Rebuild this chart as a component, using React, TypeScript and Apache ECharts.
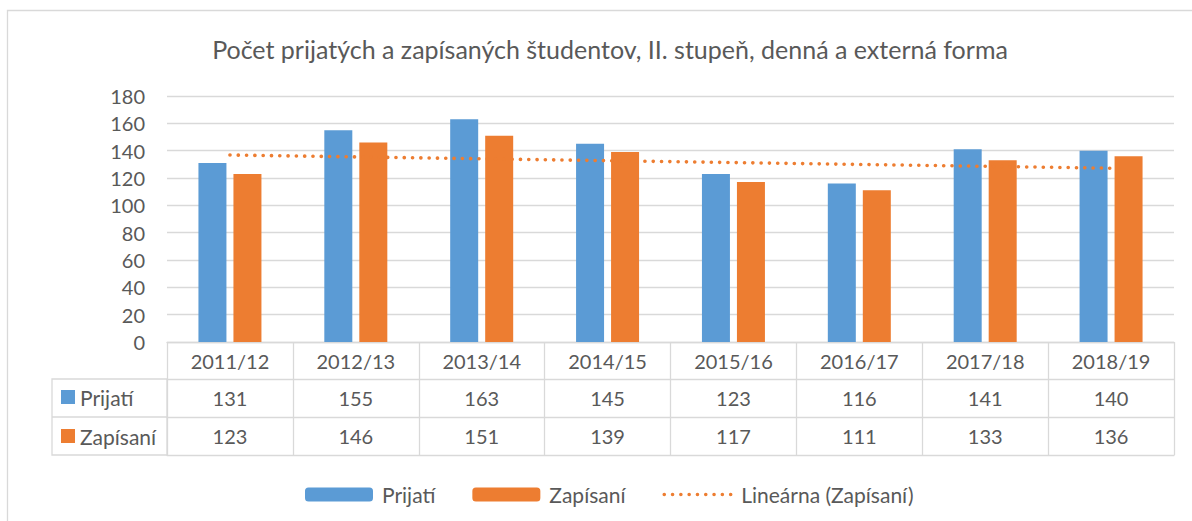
import React, { useEffect, useRef } from "react";
import * as echarts from "echarts";

const title = "Počet prijatých a zapísaných študentov, II. stupeň, denná a externá forma";
const years = ["2011/12", "2012/13", "2013/14", "2014/15", "2015/16", "2016/17", "2017/18", "2018/19"];
const prijati = [131, 155, 163, 145, 123, 116, 141, 140];
const zapisani = [123, 146, 151, 139, 117, 111, 133, 136];
const seriesNames = ["Prijatí", "Zapísaní", "Lineárna (Zapísaní)"];
const yTicks = { min: 0, max: 180, interval: 20 };

const BLUE = "#5B9BD5";
const ORANGE = "#ED7D31";
const GRID = "#D9D9D9";
const TEXT = "#595959";
const FONT = "Lato";

// linear least-squares trend of Zapísaní (Excel "Lineárna" trendline)
function linearTrend(values: number[]): number[] {
  const n = values.length;
  const xs = values.map((_, i) => i + 1);
  const mx = xs.reduce((a, b) => a + b, 0) / n;
  const my = values.reduce((a, b) => a + b, 0) / n;
  let sxy = 0;
  let sxx = 0;
  xs.forEach((x, i) => {
    sxy += (x - mx) * (values[i] - my);
    sxx += (x - mx) * (x - mx);
  });
  const slope = sxy / sxx;
  const icpt = my - slope * mx;
  return xs.map((x) => +(icpt + slope * x).toFixed(3));
}

export default function App() {
  const ref = useRef<HTMLDivElement>(null);
  useEffect(() => {
    document.body.style.margin = "0";
    if (!ref.current) return;
    const chart = echarts.init(ref.current, undefined, { renderer: "svg" });
    const trend = linearTrend(zapisani);
    const tableAxis = (data: string[], offset: number, showLabel: boolean, tickLen: number) => ({
      type: "category",
      data,
      position: "bottom",
      offset,
      gridIndex: 0,
      axisLine: { show: true, lineStyle: { color: GRID, width: 1.3 } },
      axisTick: { show: tickLen > 0, interval: 0, length: tickLen, lineStyle: { color: GRID, width: 1.3 } },
      axisLabel: {
        show: showLabel,
        interval: 0,
        fontSize: 20,
        fontFamily: FONT,
        color: TEXT,
        margin: 9,
        lineHeight: 20,
      },
      splitLine: { show: false },
    });
    chart.setOption({
      animation: false,
      backgroundColor: "#ffffff",
      title: {
        text: title,
        left: 605,
        textAlign: "center",
        top: 31,
        textStyle: { fontSize: 25, fontWeight: "normal", fontFamily: FONT, color: TEXT },
      },
      grid: { left: 167, right: 18, top: 96, bottom: 179, containLabel: false },
      legend: {
        data: [
          seriesNames[0],
          seriesNames[1],
          { name: seriesNames[2], itemStyle: { opacity: 0 }, lineStyle: { width: 3.5 } },
        ],
        left: 300,
        top: 479,
        itemWidth: 68,
        itemHeight: 14,
        itemGap: 37,
        textStyle: { fontSize: 21, fontFamily: FONT, color: TEXT, padding: [0, 0, 0, 4] },
      },
      xAxis: [
        tableAxis(years, 0, true, 37),
        tableAxis(prijati.map(String), 37, true, 38),
        tableAxis(zapisani.map(String), 75, true, 38),
        tableAxis(years, 113, false, 0),
      ],
      yAxis: {
        type: "value",
        min: yTicks.min,
        max: yTicks.max,
        interval: yTicks.interval,
        axisLine: { show: false },
        axisTick: { show: false },
        axisLabel: { fontSize: 20, fontFamily: FONT, color: TEXT, margin: 22 },
        splitLine: { show: true, lineStyle: { color: GRID, width: 1.3 } },
      },
      series: [
        {
          name: seriesNames[0],
          type: "bar",
          xAxisIndex: 0,
          data: prijati,
          barWidth: 28,
          barGap: "25%",
          itemStyle: { color: BLUE },
        },
        {
          name: seriesNames[1],
          type: "bar",
          xAxisIndex: 0,
          data: zapisani,
          barWidth: 28,
          barGap: "25%",
          itemStyle: { color: ORANGE },
        },
        {
          name: seriesNames[2],
          type: "line",
          xAxisIndex: 0,
          data: trend,
          symbol: "none",
          z: 5,
          lineStyle: { color: ORANGE, width: 3.6, type: [0.1, 8.2], cap: "round" },
          itemStyle: { color: ORANGE },
        },
      ],
      graphic: [
        {
          type: "rect",
          shape: { x: 7.5, y: 10.5, width: 1300, height: 700 },
          style: { fill: "none", stroke: GRID, lineWidth: 1.3 },
          silent: true,
        },
        {
          type: "rect",
          shape: { x: 52, y: 379, width: 115, height: 76 },
          style: { fill: "none", stroke: GRID, lineWidth: 1.3 },
          silent: true,
        },
        {
          type: "line",
          shape: { x1: 52, y1: 417, x2: 167, y2: 417 },
          style: { stroke: GRID, lineWidth: 1.3 },
          silent: true,
        },
        { type: "rect", shape: { x: 61, y: 390, width: 14, height: 14 }, style: { fill: BLUE } },
        { type: "rect", shape: { x: 61, y: 429, width: 14, height: 14 }, style: { fill: ORANGE } },
        {
          type: "text",
          x: 80,
          y: 397,
          style: { text: seriesNames[0], fontSize: 21, fontFamily: FONT, fill: TEXT, verticalAlign: "middle" },
        },
        {
          type: "text",
          x: 80,
          y: 436,
          style: { text: seriesNames[1], fontSize: 21, fontFamily: FONT, fill: TEXT, verticalAlign: "middle" },
        },
      ],
    });
    return () => chart.dispose();
  }, []);
  return <div ref={ref} style={{ width: 1192, height: 521 }} />;
}
